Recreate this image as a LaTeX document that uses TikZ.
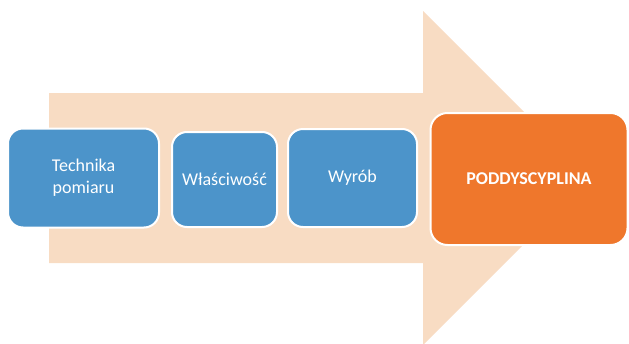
\documentclass[tikz,border=0pt]{standalone}
\usepackage{fontspec}
\setmainfont{Carlito}
\usetikzlibrary{positioning}

\definecolor{peach}{HTML}{F8DCC3}
\definecolor{boxblue}{HTML}{4C94CA}
\definecolor{boxorange}{HTML}{EF772C}

\tikzset{
  stage/.style={rectangle,rounded corners=15pt,draw=white,line width=2pt,
    fill=boxblue,text=white,align=center,inner sep=0pt,font=\fontsize{18}{22}\selectfont},
  goal/.style={stage,fill=boxorange,rounded corners=17pt,font=\fontsize{18}{22}\selectfont\bfseries}
}

\begin{document}
\begin{tikzpicture}[x=1pt,y=-1pt]
\useasboundingbox (0,0) rectangle (629,343);
\clip (0,0) rectangle (629,343);
% big arrow behind
\fill[peach] (49,93) -- (423,93) -- (423,11) -- (590,178) -- (423,345)
   -- (423,263) -- (49,263) -- cycle;
% the stages
\node[stage,minimum width=151pt,minimum height=99pt] (tech) at (83.5,178) {Technika\\pomiaru};
\node[stage,minimum width=105pt,minimum height=95pt] (prop) at (224.5,179.5) {Właściwość};
\node[stage,minimum width=129pt,minimum height=98pt] (prod) at (352.5,178) {Wyrób};
\node[goal,minimum width=197pt,minimum height=132pt] (sub) at (529,179) {PODDYSCYPLINA};
\end{tikzpicture}
\end{document}
